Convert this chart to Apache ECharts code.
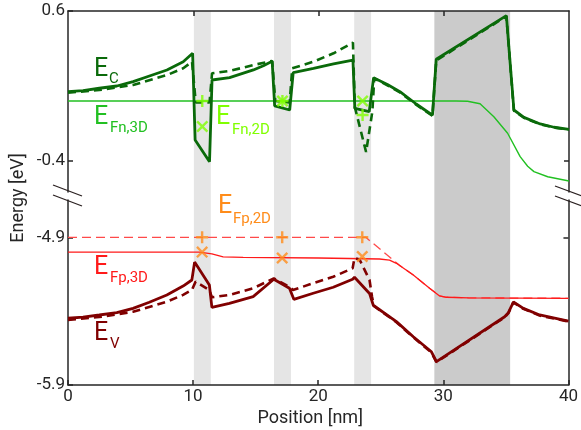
<!DOCTYPE html>
<html><head><meta charset="utf-8">
<script src="https://cdn.jsdelivr.net/npm/echarts@6/dist/echarts.min.js"></script>
<style>html,body{margin:0;padding:0;background:#fff}#c{width:581px;height:430px}</style>
</head><body><div id="c"></div>
<script>
// ---- data (x in nm, energy in eV) ----
const xTicks = [0, 10, 20, 30, 40];
const topTicks = [-0.4, 0.6];
const bottomTicks = [-5.9, -4.9];
const bandStart = [10.05, 16.45, 22.85];
const bandEnd = [11.4, 17.8, 24.2];
const darkBand = [29.25, 35.3];

const ecSolid = [[0,0.062],[1.2,0.069],[2.5,0.085],[3.9,0.10],[5.2,0.129],[6.5,0.167],[7.9,0.207],[9.2,0.262],[9.95,0.318],[10.15,-0.26],[11.3,-0.405],[11.5,0.14],[12.9,0.156],[14.8,0.207],[15.6,0.235],[16.3,0.265],[16.5,-0.033],[17.7,-0.06],[17.98,0.189],[19.6,0.218],[21.2,0.247],[22.75,0.273],[22.9,-0.049],[24.05,-0.071],[24.4,0.155],[25.5,0.11],[26.5,0.062],[27.8,-0.02],[29.1,-0.095],[29.4,0.278],[35.0,0.569],[35.6,-0.06],[36.4,-0.109],[37.7,-0.153],[38.8,-0.175],[40,-0.189]];
const ecDashed = [[0,0.055],[2.5,0.073],[5.2,0.107],[7.9,0.173],[9.2,0.218],[9.9,0.262],[10.2,-0.01],[11.3,-0.01],[11.5,0.185],[12.9,0.20],[14.8,0.24],[16.3,0.267],[16.55,0.0],[17.7,-0.01],[17.9,0.218],[19.6,0.262],[21.2,0.318],[22.75,0.389],[22.9,-0.04],[23.8,-0.34],[24.3,-0.07],[24.45,0.15],[25.5,0.105],[26.5,0.058],[27.8,-0.025],[29.1,-0.098],[29.4,0.27],[35.0,0.565],[35.6,-0.065],[36.4,-0.112],[37.7,-0.155],[38.8,-0.177],[40,-0.19]];
const efn3d = [[0,0],[31.0,0],[31.9,-0.002],[32.9,-0.018],[34.0,-0.105],[35.1,-0.215],[36.1,-0.371],[36.7,-0.435],[37.2,-0.471],[38.3,-0.505],[40,-0.533]];
const efn2dPlus = [[10.72,0.0],[17.12,0.0],[23.52,-0.093]];
const efn2dCross = [[10.72,-0.17],[17.12,0.0],[23.52,0.0]];

const efp3d = [[0,-5.0],[10.5,-5.0],[11.5,-5.012],[12.4,-5.033],[14,-5.036],[20,-5.04],[24.9,-5.047],[25.7,-5.055],[26.25,-5.076],[27.6,-5.155],[28.9,-5.245],[29.7,-5.297],[30.25,-5.306],[32,-5.31],[40,-5.313]];
const efpDashed = [[0,-4.9],[23.8,-4.9],[26.5,-5.09],[27.6,-5.155],[28.9,-5.245],[29.7,-5.297],[30.25,-5.306],[32,-5.31],[40,-5.313]];
const efp2dPlus = [[10.72,-4.9],[17.12,-4.9],[23.52,-4.9]];
const efp2dCross = [[10.72,-5.0],[17.12,-5.04],[23.52,-5.03]];

const evSolid = [[0,-5.448],[1.2,-5.44],[2.5,-5.426],[3.9,-5.41],[5.2,-5.381],[6.5,-5.34],[7.9,-5.291],[9.2,-5.23],[9.9,-5.189],[10.12,-5.068],[11.3,-5.223],[11.5,-5.374],[12.9,-5.347],[14.8,-5.302],[16.45,-5.184],[16.6,-5.175],[17.7,-5.245],[18.05,-5.32],[19.6,-5.279],[21.2,-5.238],[22.75,-5.184],[22.9,-5.17],[24.1,-5.28],[24.4,-5.36],[26.25,-5.471],[27.6,-5.573],[29.05,-5.675],[29.45,-5.742],[34.9,-5.438],[35.2,-5.41],[35.6,-5.338],[36.4,-5.381],[37.7,-5.426],[40,-5.467]];
const evDashed = [[0,-5.46],[2.5,-5.44],[5.2,-5.404],[7.9,-5.336],[9.2,-5.29],[9.9,-5.257],[10.2,-5.2],[11.3,-5.257],[11.5,-5.306],[12.9,-5.29],[14.8,-5.245],[16.45,-5.178],[16.6,-5.17],[17.7,-5.235],[17.98,-5.257],[19.6,-5.211],[21.2,-5.167],[22.75,-5.11],[22.9,-5.04],[23.3,-5.05],[24.1,-5.189],[24.3,-5.302],[24.45,-5.365],[26.25,-5.475],[27.6,-5.577],[29.05,-5.68],[29.45,-5.745],[34.9,-5.442],[35.2,-5.414],[35.6,-5.34],[36.4,-5.384],[37.7,-5.43],[40,-5.47]];

// ---- styling ----
const FONT = 'Roboto, sans-serif';
const AX = '#262626';
const C_EC = '#0a6a0a', C_FN3 = '#22c022', C_FN2 = '#80ff00';
const C_EV = '#800000', C_FP3 = '#ff1a1a', C_FP2 = '#ff8c1a';
const PLUS = 'path://M4,0H6V4H10V6H6V10H4V6H0V4H4Z';
const CROSS = 'path://M0,1.4L1.4,0L5,3.6L8.6,0L10,1.4L6.4,5L10,8.6L8.6,10L5,6.4L1.4,10L0,8.6L3.6,5Z';

const topMin = 0.6 - 181 / 150;
const botMax = -5.9 + 185 / 147.7;

const axLine = {show: true, onZero: false, lineStyle: {color: AX, width: 1.5}};
const tick = (vals) => ({show: true, inside: true, length: 5, customValues: vals, lineStyle: {color: AX, width: 1.5}});

const chart = echarts.init(document.getElementById('c'), null, {renderer: 'canvas'});

function line(data, xi, yi, color, width, dashed, z) {
  return {type: 'line', xAxisIndex: xi, yAxisIndex: yi, data: data, symbol: 'none', showSymbol: false,
    z: z || 3, silent: true,
    lineStyle: {color: color, width: width, type: dashed ? dashed : 'solid'}};
}
function marks(data, xi, yi, color, sym) {
  return {type: 'scatter', xAxisIndex: xi, yAxisIndex: yi, data: data, symbol: sym, symbolSize: 12,
    z: 6, silent: true, itemStyle: {color: color}};
}
function txt(x, y, s, size, color) {
  return {type: 'text', x: x, y: y, z: 100,
    style: {text: s, fill: color, font: size + 'px ' + FONT, textVerticalAlign: 'middle', verticalAlign: 'middle'}};
}
function slash(x1, y1, x2, y2) {
  return {type: 'line', z: 100, shape: {x1, y1, x2, y2}, style: {stroke: '#2a2020', lineWidth: 1.3}};
}

const bands = bandStart.map((s, i) => [{xAxis: s, itemStyle: {color: '#e5e5e5'}}, {xAxis: bandEnd[i]}]);
bands.push([{xAxis: darkBand[0], itemStyle: {color: '#cbcbcb'}}, {xAxis: darkBand[1]}]);

const option = {
  animation: false,
  backgroundColor: '#fff',
  grid: [
    {left: 68, right: 12, top: 11, height: 181},
    {left: 68, right: 12, top: 200, bottom: 45},
    {left: 68, right: 12, top: 11, bottom: 45}
  ],
  xAxis: [
    {gridIndex: 0, type: 'value', min: 0, max: 40, position: 'top', axisLine: axLine,
      axisTick: tick([10, 20, 30]), axisLabel: {show: false}, splitLine: {show: false}},
    {gridIndex: 1, type: 'value', min: 0, max: 40, interval: 10, position: 'bottom', axisLine: axLine,
      axisTick: tick(xTicks), splitLine: {show: false},
      axisLabel: {show: true, customValues: xTicks, fontSize: 17, color: AX, fontFamily: FONT, margin: 3},
      name: 'Position [nm]', nameLocation: 'middle', nameGap: 24,
      nameTextStyle: {fontSize: 18, color: AX, fontFamily: FONT, padding: [0, 16, 0, 0]}},
    {gridIndex: 2, type: 'value', min: 0, max: 40, show: false}
  ],
  yAxis: [
    {gridIndex: 0, type: 'value', min: topMin, max: 0.6, position: 'left', axisLine: axLine,
      axisTick: tick(topTicks), splitLine: {show: false},
      axisLabel: {show: true, customValues: topTicks, fontSize: 17, color: AX, fontFamily: FONT, margin: 3}},
    {gridIndex: 0, type: 'value', min: topMin, max: 0.6, position: 'right', axisLine: axLine,
      axisTick: tick([-0.4]), splitLine: {show: false}, axisLabel: {show: false}},
    {gridIndex: 1, type: 'value', min: -5.9, max: botMax, position: 'left', axisLine: axLine,
      axisTick: tick(bottomTicks), splitLine: {show: false},
      axisLabel: {show: true, customValues: bottomTicks, fontSize: 17, color: AX, fontFamily: FONT, margin: 3}},
    {gridIndex: 1, type: 'value', min: -5.9, max: botMax, position: 'right', axisLine: axLine,
      axisTick: tick([-4.9]), splitLine: {show: false}, axisLabel: {show: false}},
    {gridIndex: 2, type: 'value', min: 0, max: 1, position: 'left',
      axisLine: {show: false}, axisTick: {show: false}, axisLabel: {show: false}, splitLine: {show: false},
      name: 'Energy [eV]', nameLocation: 'middle', nameGap: 41, nameRotate: 90,
      nameTextStyle: {fontSize: 18, color: AX, fontFamily: FONT}}
  ],
  series: [
    {type: 'line', xAxisIndex: 2, yAxisIndex: 4, data: [[0, 0]], symbol: 'none', z: 0, silent: true,
      lineStyle: {opacity: 0}, markArea: {silent: true, z: 0, data: bands}},
    line(efn3d, 0, 0, C_FN3, 1.4),
    line(ecDashed, 0, 0, C_EC, 2.6, [8, 5]),
    line(ecSolid, 0, 0, C_EC, 2.8),
    marks(efn2dPlus, 0, 0, C_FN2, PLUS),
    marks(efn2dCross, 0, 0, C_FN2, CROSS),
    line(efpDashed, 1, 2, '#ff4a4a', 1.3, [9, 5]),
    line(efp3d, 1, 2, C_FP3, 1.3),
    line(evDashed, 1, 2, C_EV, 2.6, [8, 5]),
    line(evSolid, 1, 2, C_EV, 2.8),
    marks(efp2dPlus, 1, 2, C_FP2, PLUS),
    marks(efp2dCross, 1, 2, C_FP2, CROSS)
  ],
  graphic: [
    slash(53, 185, 82, 196), slash(53, 195, 82, 206),
    slash(555, 186, 582, 196), slash(555, 196, 582, 206),
    txt(94, 70, 'E', 25, C_EC), txt(109, 79, 'C', 15, C_EC),
    txt(94, 118, 'E', 25, C_FN3), txt(110, 128, 'Fn,3D', 15, C_FN3),
    txt(216, 118, 'E', 25, C_FN2), txt(232, 130, 'Fn,2D', 15, C_FN2),
    txt(218, 207, 'E', 25, C_FP2), txt(233, 219, 'Fp,2D', 15, C_FP2),
    txt(94, 268, 'E', 25, C_FP3), txt(110, 278, 'Fp,3D', 15, C_FP3),
    txt(94, 334, 'E', 25, C_EV), txt(110, 344, 'V', 15, C_EV)
  ]
};
chart.setOption(option);
</script>
</body></html>
